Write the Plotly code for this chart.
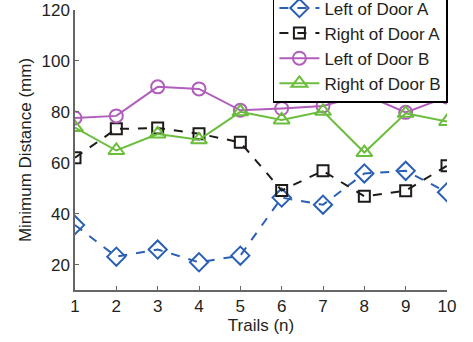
import plotly.graph_objects as go

trials = [1, 2, 3, 4, 5, 6, 7, 8, 9, 10]
left_a = [35.5, 23.1, 25.9, 20.9, 23.5, 46.3, 43.5, 55.8, 56.8, 48.4]
right_a = [62.0, 73.3, 73.6, 71.4, 68.0, 49.1, 56.8, 46.8, 49.0, 58.8]
left_b = [77.6, 78.4, 89.8, 89.0, 80.6, 81.3, 82.3, 86.8, 79.8, 85.8]
right_b = [73.8, 64.8, 71.3, 69.0, 80.0, 76.8, 80.2, 64.0, 79.4, 76.2]
names = ["Left of Door A", "Right of Door A", "Left of Door B", "Right of Door B"]

fig = go.Figure()
series = [
    (left_a, "#2a5fb5", "dash", "diamond-open", 14),
    (right_a, "#1e1a18", "dash", "square-open", 11),
    (left_b, "#b05dbb", "solid", "circle-open", 13),
    (right_b, "#6bbd3c", "solid", "triangle-up-open", 14),
]
for (vals, col, dash, sym, sz), nm in zip(series, names):
    fig.add_trace(go.Scatter(
        x=trials, y=vals, name=nm, mode="lines+markers",
        line=dict(color=col, width=2, dash=dash),
        marker=dict(symbol=sym, size=sz, color=col, line=dict(color=col, width=2)),
    ))

font = "Liberation Sans, Arial, sans-serif"
fig.update_layout(
    width=473, height=342,
    margin=dict(l=75, r=26, t=10, b=52, autoexpand=False),
    plot_bgcolor="white", paper_bgcolor="white",
    font=dict(family=font, size=17, color="#231f20"),
    showlegend=True,
    legend=dict(x=0.532, y=0.668, xanchor="left", yanchor="bottom",
                bgcolor="white", bordercolor="#000000", borderwidth=1.5,
                font=dict(size=17, color="#231f20"), itemwidth=40,
                tracegroupgap=0, maxheight=500),
    xaxis=dict(range=[1, 10], tickvals=trials, ticks="inside", ticklen=4,
               tickcolor="#666", showline=True, linecolor="#666", linewidth=1.5,
               showgrid=False, zeroline=False,
               title=dict(text="Trails (n)", font=dict(size=17), standoff=2)),
    yaxis=dict(range=[10, 120], tickvals=[20, 40, 60, 80, 100, 120], ticks="inside",
               ticklen=4, tickcolor="#666", showline=True, linecolor="#666",
               linewidth=1.5, showgrid=False, zeroline=False,
               title=dict(text="Minimum Distance (mm)", font=dict(size=17), standoff=6)),
)
fig.write_html("out.html", config={"displayModeBar": False},
               post_script="document.body.style.margin='0px';")
